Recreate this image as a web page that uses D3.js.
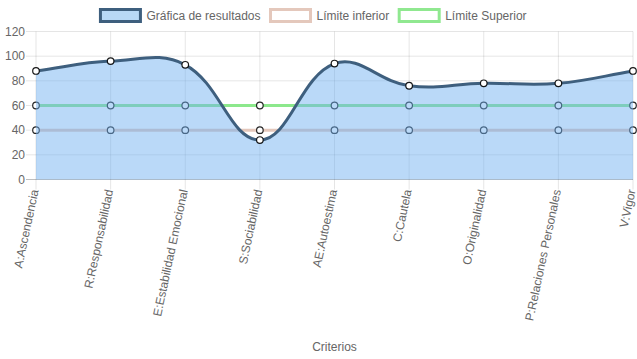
<!DOCTYPE html>
<html><head><meta charset="utf-8">
<script src="https://cdn.jsdelivr.net/npm/d3@7"></script>
<style>body{margin:0;background:#fff}svg{display:block}text{font-family:"Liberation Sans",Arial,Helvetica,sans-serif}</style>
</head><body><svg id="c" width="637" height="359"></svg>
<script>
const categories = ["A:Ascendencia","R:Responsabilidad","E:Estabilidad Emocional","S:Sociabilidad","AE:Autoestima","C:Cautela","O:Originalidad","P:Relaciones Personales","V:Vigor"];
const resultados = [88,96,93,32,94,76,78,78,88];
const limiteInferior = [40,40,40,40,40,40,40,40,40];
const limiteSuperior = [60,60,60,60,60,60,60,60,60];
const yTicks = [0,20,40,60,80,100,120];
const seriesNames = ["Gráfica de resultados","Límite inferior","Límite Superior"];
const xTitle = "Criterios";

const W=637,H=359;
const area={left:36,right:633,top:31.5,bottom:179.5};
const svg=d3.select("#c");
const x=d3.scalePoint().domain(categories).range([area.left,area.right]);
const y=d3.scaleLinear().domain([0,120]).range([area.bottom,area.top]);

// grid
const g=svg.append("g");
yTicks.forEach(t=>{
  g.append("line").attr("x1",area.left-10).attr("x2",area.right).attr("y1",y(t)).attr("y2",y(t))
   .attr("stroke",t===0?"rgba(0,0,0,0.25)":"rgba(0,0,0,0.1)").attr("stroke-width",1);
  g.append("text").attr("x",area.left-11).attr("y",y(t)).attr("dy","0.35em").attr("text-anchor","end")
   .attr("font-size",12).attr("fill","#666").text(t);
});
categories.forEach((c,i)=>{
  g.append("line").attr("x1",x(c)).attr("x2",x(c)).attr("y1",area.top).attr("y2",area.bottom+10)
   .attr("stroke","rgba(0,0,0,0.1)").attr("stroke-width",1);
  g.append("text").attr("transform",`translate(${x(c)-1.5},${area.bottom+10}) rotate(-78)`)
   .attr("dy","0.35em").attr("text-anchor","end").attr("font-size",12).attr("fill","#666").text(c);
});
svg.append("text").attr("x",(area.left+area.right)/2).attr("y",351).attr("text-anchor","middle")
  .attr("font-size",12).attr("fill","#666").text(xTitle);

// Chart.js-like spline
function ctrl(pts,t){
  return pts.map((p,i)=>{
    const a=pts[Math.max(0,i-1)], b=pts[Math.min(pts.length-1,i+1)];
    const d01=Math.hypot(p[0]-a[0],p[1]-a[1]), d12=Math.hypot(b[0]-p[0],b[1]-p[1]);
    let s01=d01/(d01+d12), s12=d12/(d01+d12); if(isNaN(s01))s01=0; if(isNaN(s12))s12=0;
    const fa=t*s01, fb=t*s12;
    const cap=(q)=>[Math.max(area.left,Math.min(area.right,q[0])),Math.max(area.top,Math.min(area.bottom,q[1]))];
    return {p, prev:cap([p[0]-fa*(b[0]-a[0]), p[1]-fa*(b[1]-a[1])]), next:cap([p[0]+fb*(b[0]-a[0]), p[1]+fb*(b[1]-a[1])])};
  });
}
function splinePath(vals, close){
  const pts=vals.map((v,i)=>[x(categories[i]),y(v)]);
  const c=ctrl(pts,0.4);
  const p=d3.path();
  p.moveTo(pts[0][0],pts[0][1]);
  for(let i=1;i<c.length;i++){
    p.bezierCurveTo(c[i-1].next[0],c[i-1].next[1],c[i].prev[0],c[i].prev[1],c[i].p[0],c[i].p[1]);
  }
  if(close){ p.lineTo(pts[pts.length-1][0],y(0)); p.lineTo(pts[0][0],y(0)); p.closePath(); }
  return p.toString();
}
function drawSeries(vals,stroke,fill,ptStroke){
  if(fill) svg.append("path").attr("d",splinePath(vals,true)).attr("fill",fill).attr("stroke","none");
  svg.append("path").attr("d",splinePath(vals,false)).attr("fill","none").attr("stroke",stroke).attr("stroke-width",3);
  vals.forEach((v,i)=>svg.append("circle").attr("cx",x(categories[i])).attr("cy",y(v)).attr("r",3.3)
    .attr("fill","#fff").attr("stroke",ptStroke).attr("stroke-width",1.2));
}
drawSeries(limiteSuperior,"rgb(140,232,140)",null,"rgba(0,0,0,0.85)");
drawSeries(limiteInferior,"rgb(228,200,188)",null,"rgba(0,0,0,0.85)");
// main: fill over the limits
svg.append("path").attr("d",splinePath(resultados,true)).attr("fill","rgba(110,176,240,0.48)");
svg.append("path").attr("d",splinePath(resultados,false)).attr("fill","none").attr("stroke","rgb(62,95,126)").attr("stroke-width",3);
resultados.forEach((v,i)=>svg.append("circle").attr("cx",x(categories[i])).attr("cy",y(v)).attr("r",3.3)
  .attr("fill","#fff").attr("stroke","rgba(0,0,0,0.9)").attr("stroke-width",1.2));

// legend
const legItems=[{fill:"rgb(184,217,246)",stroke:"rgb(62,95,126)"},{fill:"#fff",stroke:"rgb(228,200,188)"},{fill:"#fff",stroke:"rgb(144,232,144)"}];
const lg=svg.append("g");
const texts=seriesNames.map(n=>lg.append("text").attr("font-size",12).attr("fill","#666").attr("y",15.5).attr("dy","0.35em").text(n));
const widths=texts.map(t=>t.node().getComputedTextLength());
const total=d3.sum(widths.map(w=>40+6+w+10));
let cx=(W-total)/2;
texts.forEach((t,i)=>{
  lg.append("rect").attr("x",cx).attr("y",9.5).attr("width",40).attr("height",12)
    .attr("fill",legItems[i].fill).attr("stroke",legItems[i].stroke).attr("stroke-width",3);
  t.attr("x",cx+46);
  cx+=40+6+widths[i]+10;
});
</script></body></html>
